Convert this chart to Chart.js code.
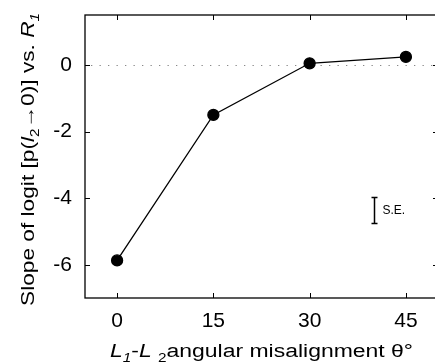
<!DOCTYPE html>
<html>
<head>
<meta charset="utf-8">
<script src="https://cdn.jsdelivr.net/npm/chart.js@4"></script>
<style>
html,body{margin:0;padding:0;background:#fff;overflow:hidden;width:435px;height:363px;}
canvas{display:block;}
</style>
</head>
<body>
<canvas id="c" width="441" height="363" style="width:441px;height:363px"></canvas>
<script>
// Data
const angles = [0, 15, 30, 45];
const slopes = [-5.87, -1.5, 0.05, 0.24];
const xTicks = [0, 15, 30, 45];
const yTicks = [-6, -4, -2, 0];
const seX = [40];
const seRange = [-4.76, -3.98];
const seLabel = ["S.E."];

const FONT = 'Arial, "Liberation Sans", sans-serif';

function fontFor(p, size) {
  return (p[1] ? 'italic ' : '') + (p[2] ? Math.round(size*0.68) : size) + 'px ' + FONT;
}
function renderRich(ctx, parts, size, cx, cy, targetWidth) {
  const w = parts.map(p => { ctx.font = fontFor(p, size); return ctx.measureText(p[0]).width; });
  const total = w.reduce((a,b)=>a+b,0);
  const k = targetWidth / total;
  ctx.save();
  ctx.translate(cx - targetWidth/2, cy);
  ctx.scale(k, 1);
  let x = 0;
  ctx.textBaseline = 'alphabetic';
  ctx.textAlign = 'left';
  parts.forEach((p,i) => {
    ctx.font = fontFor(p, size);
    ctx.fillText(p[0], x, p[2] ? size*0.3 : 0);
    x += w[i];
  });
  ctx.restore();
}

const deco = {
  id: 'deco',
  beforeDatasetsDraw(chart) {
    const {ctx, chartArea: a, scales: {x, y}} = chart;
    ctx.save();
    ctx.strokeStyle = '#888';
    ctx.lineWidth = 1.2;
    ctx.setLineDash([1.3, 7.2]);
    const y0 = Math.round(y.getPixelForValue(0)) + 0.5;
    ctx.beginPath();
    ctx.moveTo(a.left + 6, y0);
    ctx.lineTo(a.right, y0);
    ctx.stroke();
    ctx.restore();
  },
  afterDatasetsDraw(chart) {
    const {ctx, chartArea: a, scales: {x, y}} = chart;
    ctx.save();
    ctx.strokeStyle = '#000';
    ctx.lineWidth = 1.3;
    ctx.strokeRect(a.left, a.top, a.right - a.left, a.bottom - a.top);
    ctx.lineWidth = 1;
    const tl = 5;
    ctx.beginPath();
    xTicks.forEach(v => {
      const px = Math.round(x.getPixelForValue(v)) + 0.5;
      ctx.moveTo(px, a.bottom); ctx.lineTo(px, a.bottom - tl);
      ctx.moveTo(px, a.top); ctx.lineTo(px, a.top + tl);
    });
    yTicks.forEach(v => {
      const py = Math.round(y.getPixelForValue(v)) + 0.5;
      ctx.moveTo(a.left, py); ctx.lineTo(a.left + tl, py);
      ctx.moveTo(a.right, py); ctx.lineTo(a.right - tl, py);
    });
    ctx.stroke();
    // S.E. bar
    const sx = Math.round(x.getPixelForValue(seX[0])) + 0.5;
    const sy1 = y.getPixelForValue(seRange[0]);
    const sy2 = y.getPixelForValue(seRange[1]);
    ctx.lineWidth = 1.5;
    ctx.beginPath();
    ctx.moveTo(sx, sy1); ctx.lineTo(sx, sy2);
    ctx.moveTo(sx - 3, sy1); ctx.lineTo(sx + 3, sy1);
    ctx.moveTo(sx - 3, sy2); ctx.lineTo(sx + 3, sy2);
    ctx.stroke();
    ctx.fillStyle = '#000';
    ctx.font = '12px ' + FONT;
    ctx.textAlign = 'left';
    ctx.textBaseline = 'middle';
    ctx.fillText(seLabel[0], sx + 8, (sy1 + sy2) / 2);
    // x title
    renderRich(ctx, [['L', true, false], ['1', true, true], ['-', false, false], ['L', true, false], [' ', false, false], ['2', false, true], ['angular misalignment θ°', false, false]], 18, 261.5, 356.5, 303);
    // y title
    ctx.translate(34, 159.5);
    ctx.rotate(-Math.PI / 2);
    renderRich(ctx, [['Slope of logit [p(', false, false], ['l', true, false], ['2', false, true], ['\u2192', false, false], ['0)] vs. ', false, false], ['R', true, false], ['1', true, true]], 18, 0, 0, 293);
    ctx.restore();
  }
};

new Chart(document.getElementById('c'), {
  type: 'scatter',
  data: {
    datasets: [{
      data: angles.map((a, i) => ({x: a, y: slopes[i]})),
      showLine: true,
      borderColor: '#000',
      borderWidth: 1.3,
      backgroundColor: '#000',
      pointRadius: 5.5,
      pointHoverRadius: 5.5,
      pointBackgroundColor: '#000',
      pointBorderColor: '#000'
    }]
  },
  options: {
    responsive: false,
    animation: false,
    devicePixelRatio: 1,
    layout: {autoPadding: false, padding: {top: 15, right: 3, left: 0, bottom: 0}},
    plugins: {legend: {display: false}, tooltip: {enabled: false}},
    scales: {
      x: {
        type: 'linear', min: -5, max: 50,
        afterBuildTicks: s => { s.ticks = xTicks.map(v => ({value: v})); },
        afterFit: s => { s.height = 65; s.paddingLeft = 0; s.paddingRight = 0; },
        grid: {display: false, drawTicks: false},
        border: {display: false},
        ticks: {color: '#000', font: {family: FONT, size: 21}, padding: 11, maxRotation: 0}
      },
      y: {
        type: 'linear', min: -7, max: 1.5,
        afterBuildTicks: s => { s.ticks = yTicks.map(v => ({value: v})); },
        afterFit: s => { s.width = 85; s.paddingTop = 0; s.paddingBottom = 0; },
        grid: {display: false, drawTicks: false},
        border: {display: false},
        ticks: {color: '#000', font: {family: FONT, size: 21}, padding: 13}
      }
    }
  },
  plugins: [deco]
});
</script>
</body>
</html>
